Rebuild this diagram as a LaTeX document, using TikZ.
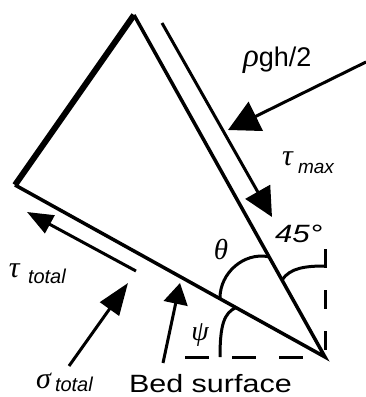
\documentclass[tikz,border=0pt]{standalone}
\usepackage{fontspec}
\setmainfont{Liberation Sans}
\newfontfamily\greekfont{Liberation Serif}
\usetikzlibrary{arrows.meta}
\begin{document}
\begin{tikzpicture}[x=1pt,y=-1pt,
  edge/.style={line width=3.5pt, line cap=butt},
  thickedge/.style={line width=6pt, line cap=butt},
  force/.style={line width=3pt},
  dashline/.style={line width=3pt},
  anglearc/.style={line width=3pt},
  lbl/.style={inner sep=0pt, outer sep=0pt, anchor=base west},
  fs/.code={\fontsize{#1}{#1}\selectfont}]
\useasboundingbox (0,0) rectangle (365,397);
% triangle
\coordinate (T) at (134,15);
\coordinate (L) at (15,185);
\coordinate (B) at (325,357);
\draw[edge, line join=miter] (L) -- (B) -- (T);
\draw[thickedge] (T) -- (L);
% tau max line
\coordinate (m1) at (162,23);
\coordinate (m2) at (272,217);
\draw[force, -{Triangle[length=29pt,width=28pt]}] (m1) -- (m2);
% rho g h /2
\coordinate (r1) at (366,62);
\coordinate (r2) at (228,130);
\draw[force, -{Triangle[length=31pt,width=32pt]}] (r1) -- (r2);
% tau total
\coordinate (t1) at (136,271);
\coordinate (t2) at (27,212);
\draw[force, -{Triangle[length=26pt,width=20pt]}] (t1) -- (t2);
% sigma total
\coordinate (s1) at (69,366);
\coordinate (s2) at (128,283);
\draw[force, -{Triangle[length=32pt,width=23pt]}] (s1) -- (s2);
% bed surface
\coordinate (b1) at (163,363);
\coordinate (b2) at (180,283);
\draw[force, -{Triangle[length=21pt,width=24pt]}] (b1) -- (b2);
% dashed reference lines
\coordinate (h0) at (185,357);
\coordinate (v0) at (325,249);
\draw[dashline, dash pattern=on 24pt off 23pt] (h0) -- (B);
\draw[dashline, dash pattern=on 19pt off 22pt] (v0) -- (B);
% angle arcs
\coordinate (th0) at (220,298);
\coordinate (th1) at (268,256.6);
\draw[anglearc] (th0) .. controls (220,273) and (243.6,252.3) .. (th1);
\coordinate (ps0) at (220,357);
\coordinate (ps1) at (236,307.5);
\draw[anglearc] (ps0) .. controls (220,325) and (224,313) .. (ps1);
\coordinate (f0) at (282,280);
\coordinate (f1) at (325,266);
\draw[anglearc] (f0) .. controls (290,268) and (305,266) .. (f1);
% labels
\node[lbl, fs=27] (rho) at (243,66) {{\greekfont\itshape\fontsize{33}{33}\selectfont ρ}gh/2};
\node[lbl, fs=30] (taumax) at (282,165) {\greekfont\itshape τ};
\node[lbl, fs=19] (max) at (298,173) {\itshape max};
\node[lbl, fs=25, xscale=1.25] (fortyfive) at (275,242) {\itshape 45°};
\node[inner sep=0pt, fs=29] (theta) at (221,249) {\greekfont\itshape θ};
\node[inner sep=0pt, fs=28] (psi) at (200,335) {\greekfont\itshape ψ};
\node[lbl, fs=30] (tautot) at (9,277) {\greekfont\itshape τ};
\node[lbl, fs=20] (tot1) at (28,283) {\itshape total};
\node[lbl, fs=30] (sigtot) at (36,388) {\greekfont\itshape σ};
\node[lbl, fs=20] (tot2) at (55,391) {\itshape total};
\node[lbl, fs=25, xscale=1.22] (bed) at (129,392) {Bed surface};
\end{tikzpicture}
\end{document}
